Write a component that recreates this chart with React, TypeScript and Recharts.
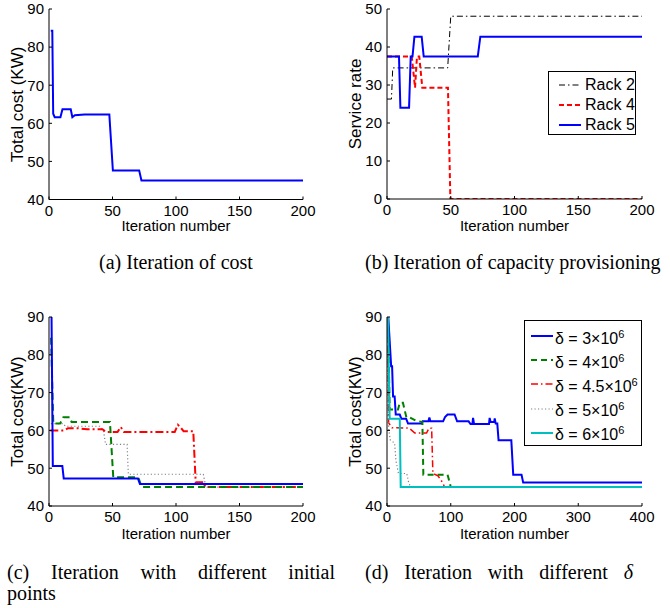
import React from 'react'
import { LineChart, Line, XAxis, YAxis, Legend } from 'recharts'

const SANS = '"Liberation Sans", Arial, Helvetica, sans-serif'
const SERIF = '"Liberation Serif", "Times New Roman", Times, serif'

const BLUE = '#0000ff'
const GREEN = '#008000'
const RED = '#ff0000'
const GRAY = '#808080'
const CYAN = '#00bfbf'
const BLACK = '#000000'

// (a) iteration of cost
const costIter = [1.4, 2.6, 3.3, 4.5, 9, 10.6, 17.1, 18.4, 20.3, 28, 47.5, 50.3, 71, 72.8, 200]
const costVal = [84.3, 84.3, 62.5, 61.6, 61.6, 63.7, 63.7, 61.6, 62.1, 62.3, 62.3, 47.6, 47.6, 45.0, 45.0]

// (b) capacity provisioning
const rack2Iter = [0, 3.5, 4.5, 47.6, 50, 200]
const rack2Val = [26.3, 26.3, 34.5, 34.5, 48.1, 48.1]
const rack4Iter = [0, 19.4, 22, 23.5, 25.3, 27.7, 47.8, 49.7, 200]
const rack4Val = [37.5, 37.5, 29.3, 37.5, 37.5, 29.3, 29.3, 0, 0]
const rack5Iter = [0, 9.4, 10.5, 17.3, 18.6, 20, 21.5, 27.2, 28.8, 71.2, 73.2, 200]
const rack5Val = [37.5, 37.5, 24, 24, 37.5, 37.5, 42.7, 42.7, 37.5, 37.5, 42.7, 42.7]

// (c) different initial points
const cBlueIter = [2, 3, 10.5, 11.6, 70, 71.6, 200]
const cBlueVal = [90, 50.6, 50.6, 47.3, 47.3, 45.8, 45.8]
const cGreenIter = [1.6, 3.4, 8.7, 11.3, 16.5, 17.8, 48, 50.6, 70.3, 73, 200]
const cGreenVal = [84.5, 61.8, 61.8, 63.5, 63.5, 62.2, 62.2, 47.6, 47.6, 45, 45]
const cRedIter = [1, 12, 15, 22, 30, 42, 45, 54, 56.5, 59, 99, 101.5, 104, 106, 113.6, 115.5, 121.5, 123, 200]
const cRedVal = [60, 60, 60.6, 60.6, 60.3, 60.3, 59.6, 59.6, 60.9, 59.6, 59.6, 61.5, 60.6, 59.8, 59.8, 46.3, 46.3, 45, 45]
const cGrayIter = [1.5, 11, 13, 40, 43, 44.5, 61.5, 62.5, 121.5, 123.5, 200]
const cGrayVal = [61.8, 61.8, 61.1, 61.1, 59.8, 56.3, 56.3, 48.4, 48.4, 45, 45]

// (d) different delta
const deltaNames = ['3', '4', '4.5', '5', '6']
const d3Iter = [2, 6.5, 8, 9.5, 12, 13.7, 20, 22.5, 30, 33, 54, 56, 65, 66.5, 68, 88, 91, 95, 106, 110, 128, 131, 134, 135, 136.5, 160, 161, 162.5, 168, 169, 170.5, 173, 175, 195, 198, 211, 213.6, 400]
const d3Val = [90, 77, 77, 69, 69, 64.2, 64.2, 63.1, 63.1, 61.8, 61.8, 62.4, 62.4, 63.4, 62.4, 62.4, 63.5, 64.2, 64.2, 62.4, 62.4, 61.7, 61.7, 63.3, 61.7, 61.7, 63.3, 62.2, 62.2, 63.2, 61.8, 61.8, 57.4, 57.4, 48.3, 48.3, 46.2, 46.2]
const d4Iter = [1.5, 4.2, 17.3, 20, 25, 30.5, 36, 45, 55.5, 57, 95, 98, 100, 400]
const d4Val = [90, 65.5, 65.5, 67.3, 67.3, 63.4, 63.4, 62.6, 62.2, 48.3, 48.3, 46.4, 45, 45]
const d45Iter = [1.5, 2.5, 8, 35, 43.6, 62, 66, 70, 72, 80, 88, 90, 400]
const d45Val = [90, 62, 60.7, 60.6, 59.3, 59.3, 60.6, 60.6, 48.6, 48, 46, 45, 45]
const d5Iter = [1, 2, 3, 5, 9, 12, 14, 18, 31, 34, 37, 400]
const d5Val = [90, 62, 60, 57.5, 57, 56.6, 52, 48.6, 48.6, 46.2, 45, 45]
const d6Iter = [1.5, 4.2, 20, 21.5, 400]
const d6Val = [90, 63.1, 63.1, 45, 45]

const ticks200 = [0, 50, 100, 150, 200]
const ticks400 = [0, 100, 200, 300, 400]
const costTicks = [40, 50, 60, 70, 80, 90]
const rateTicks = [0, 10, 20, 30, 40, 50]

type Series = {
  label: React.ReactNode
  iter: number[]
  val: number[]
  color: string
  width: number
  dash?: string
}

const zip = (xs: number[], ys: number[]) => xs.map((x, i) => ({ x, y: ys[i] }))

const delta = (d: string) => (
  <span>
    δ = {d}×10<sup style={{ fontSize: 11, verticalAlign: 6 }}>6</sup>
  </span>
)

const seriesA: Series[] = [{ label: 'cost', iter: costIter, val: costVal, color: BLUE, width: 2 }]
const seriesB: Series[] = [
  { label: 'Rack 2', iter: rack2Iter, val: rack2Val, color: BLACK, width: 1, dash: '6 3 1.5 3' },
  { label: 'Rack 4', iter: rack4Iter, val: rack4Val, color: RED, width: 2, dash: '5 3' },
  { label: 'Rack 5', iter: rack5Iter, val: rack5Val, color: BLUE, width: 2 },
]
const seriesC: Series[] = [
  { label: 'c1', iter: cGrayIter, val: cGrayVal, color: GRAY, width: 1.2, dash: '1.2 2.3' },
  { label: 'c2', iter: cRedIter, val: cRedVal, color: RED, width: 2, dash: '8 3 2 3' },
  { label: 'c3', iter: cGreenIter, val: cGreenVal, color: GREEN, width: 2, dash: '7 4' },
  { label: 'c4', iter: cBlueIter, val: cBlueVal, color: BLUE, width: 2 },
]
const seriesD: Series[] = [
  { label: delta(deltaNames[0]), iter: d3Iter, val: d3Val, color: BLUE, width: 2 },
  { label: delta(deltaNames[1]), iter: d4Iter, val: d4Val, color: GREEN, width: 2, dash: '6 4' },
  { label: delta(deltaNames[2]), iter: d45Iter, val: d45Val, color: RED, width: 1.5, dash: '7 3 1.5 3' },
  { label: delta(deltaNames[3]), iter: d5Iter, val: d5Val, color: GRAY, width: 1.2, dash: '1.2 2.3' },
  { label: delta(deltaNames[4]), iter: d6Iter, val: d6Val, color: CYAN, width: 2 },
]

const tickStyle = { fill: '#000', fontSize: 15, fontFamily: SANS }

const yTitle = (text: string, size: number, cx: number) => (props: any) => {
  const vb = props.viewBox
  const cy = vb.y + vb.height / 2
  return (
    <text x={cx} y={cy} transform={`rotate(-90 ${cx} ${cy})`} textAnchor="middle"
      dominantBaseline="central" fontFamily={SANS} fontSize={size} fill="#000">
      {text}
    </text>
  )
}

const xTitle = (text: string, dy: number) => (props: any) => {
  const vb = props.viewBox
  return (
    <text x={vb.x + vb.width / 2} y={vb.y + dy} textAnchor="middle" dominantBaseline="central"
      fontFamily={SANS} fontSize={15} fill="#000">
      {text}
    </text>
  )
}

type LegendProps = {
  items: Series[]
  width: number
  height: number
  first: number
  step: number
  sampleX: number
  sampleW: number
  textX: number
}

const LegendBox = ({ items, width, height, first, step, sampleX, sampleW, textX }: LegendProps) => (
  <div style={{ position: 'relative', width, height, border: '1px solid #000', background: '#fff',
    boxSizing: 'border-box', fontFamily: SANS, fontSize: 16, color: '#000' }}>
    {items.map((s, i) => (
      <div key={i} style={{ position: 'absolute', left: 0, top: first + i * step - 10, height: 20,
        display: 'flex', alignItems: 'center', whiteSpace: 'nowrap' }}>
        <svg width={sampleX + sampleW} height={20} style={{ display: 'block' }}>
          <line x1={sampleX} x2={sampleX + sampleW} y1={10} y2={10} stroke={s.color}
            strokeWidth={s.width} strokeDasharray={s.dash} />
        </svg>
        <span style={{ marginLeft: textX - sampleX - sampleW, lineHeight: '20px' }}>{s.label}</span>
      </div>
    ))}
  </div>
)

type PanelProps = {
  left: number
  top: number
  plotLeft: number
  plotTop: number
  plotBottom: number
  xDomain: [number, number]
  xTicks: number[]
  yDomain: [number, number]
  yTicks: number[]
  yLabel: string
  yLabelSize: number
  yLabelX: number
  xLabelDy: number
  series: Series[]
  legend?: { left: number; top: number; props: Omit<LegendProps, 'items'>; items: Series[] }
}

const H = 240

const Panel = (p: PanelProps) => (
  <div style={{ position: 'absolute', left: p.left, top: p.top }}>
    <LineChart width={p.plotLeft > 50 ? 340 : 330} height={H}
      margin={{ top: p.plotTop, right: p.plotLeft > 50 ? 28 : 27, bottom: 0, left: 0 }}>
      <XAxis xAxisId="b" type="number" dataKey="x" domain={p.xDomain} ticks={p.xTicks}
        allowDataOverflow height={H - p.plotBottom} tick={tickStyle} tickSize={-3} tickMargin={8.5}
        stroke="#000" interval={0} label={xTitle('Iteration number', p.xLabelDy)} />
      <XAxis xAxisId="t" orientation="top" type="number" dataKey="x" domain={p.xDomain} ticks={p.xTicks}
        allowDataOverflow height={0} tickSize={-3} tickFormatter={() => ''} stroke="#000" interval={0} />
      <YAxis yAxisId="l" type="number" dataKey="y" domain={p.yDomain} ticks={p.yTicks}
        allowDataOverflow width={p.plotLeft} tick={tickStyle} tickSize={-3} tickMargin={8}
        stroke="#000" interval={0} label={yTitle(p.yLabel, p.yLabelSize, p.yLabelX)} />
      <YAxis yAxisId="r" orientation="right" type="number" dataKey="y" domain={p.yDomain} ticks={p.yTicks}
        allowDataOverflow width={0} tickSize={-3} tickFormatter={() => ''} stroke="#000" interval={0} />
      {p.series.map((s, i) => (
        <Line key={i} xAxisId="b" yAxisId="l" data={zip(s.iter, s.val)} dataKey="y" type="linear"
          stroke={s.color} strokeWidth={s.width} strokeDasharray={s.dash} dot={false}
          activeDot={false} isAnimationActive={false} />
      ))}
      {p.legend && (
        <Legend layout="vertical" align="center" verticalAlign="middle"
          wrapperStyle={{ left: p.legend.left, top: p.legend.top, width: 'auto', height: 'auto' }}
          content={() => <LegendBox items={p.legend!.items} {...p.legend!.props} />} />
      )}
    </LineChart>
  </div>
)

const caption: React.CSSProperties = {
  position: 'absolute', fontFamily: SERIF, fontSize: 20, lineHeight: '21px', color: '#000', whiteSpace: 'nowrap',
}

export default function App() {
  return (
    <div style={{ position: 'absolute', left: 0, top: 0, width: 670, height: 608, background: '#fff', overflow: 'hidden' }}>
      <Panel left={0} top={0} plotLeft={49} plotTop={9} plotBottom={199.5}
        xDomain={[0, 200]} xTicks={ticks200} yDomain={[40, 90]} yTicks={costTicks}
        yLabel="Total cost (KW)" yLabelSize={17} yLabelX={17} xLabelDy={26} series={seriesA} />
      <Panel left={330} top={0} plotLeft={57} plotTop={9} plotBottom={199}
        xDomain={[0, 200]} xTicks={ticks200} yDomain={[0, 50]} yTicks={rateTicks}
        yLabel="Service rate" yLabelSize={17} yLabelX={25} xLabelDy={26} series={seriesB}
        legend={{ left: 218, top: 71, items: [...seriesB],
          props: { width: 88, height: 64, first: 13, step: 20, sampleX: 10, sampleW: 22, textX: 36 } }} />
      <Panel left={0} top={300} plotLeft={49} plotTop={17} plotBottom={206}
        xDomain={[0, 200]} xTicks={ticks200} yDomain={[40, 90]} yTicks={costTicks}
        yLabel="Total cost(KW)" yLabelSize={17} yLabelX={17} xLabelDy={27} series={seriesC} />
      <Panel left={330} top={300} plotLeft={57} plotTop={17} plotBottom={206}
        xDomain={[0, 400]} xTicks={ticks400} yDomain={[40, 90]} yTicks={costTicks}
        yLabel="Total cost(KW)" yLabelSize={17} yLabelX={25} xLabelDy={27} series={seriesD}
        legend={{ left: 194, top: 20, items: seriesD,
          props: { width: 118, height: 126, first: 15, step: 24.2, sampleX: 6, sampleW: 22, textX: 30 } }} />

      <div style={{ ...caption, left: 0, width: 352, top: 252, textAlign: 'center' }}>(a) Iteration of cost</div>
      <div style={{ ...caption, left: 365, top: 252 }}>(b) Iteration of capacity provisioning</div>
      <div style={{ ...caption, left: 7, width: 328, top: 562, textAlign: 'justify', textAlignLast: 'justify' }}>
        (c) Iteration with different initial
      </div>
      <div style={{ ...caption, left: 7, top: 583 }}>points</div>
      <div style={{ ...caption, left: 365, width: 268, top: 562, textAlign: 'justify', textAlignLast: 'justify' }}>
        (d) Iteration with different <i>δ</i>
      </div>
    </div>
  )
}
